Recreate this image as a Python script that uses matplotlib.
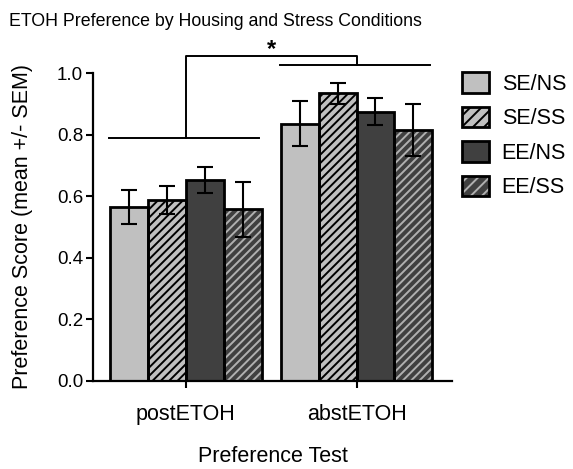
import matplotlib
matplotlib.use("Agg")
import matplotlib.pyplot as plt
import numpy as np
from matplotlib.patches import Patch
from matplotlib.legend_handler import HandlerTuple

plt.rcParams['font.family'] = ['Liberation Sans', 'DejaVu Sans']
plt.rcParams['hatch.linewidth'] = 1.4

groups = ["postETOH", "abstETOH"]
conditions = ["SE/NS", "SE/SS", "EE/NS", "EE/SS"]
means = {
    "SE/NS": [0.565, 0.835],
    "SE/SS": [0.588, 0.935],
    "EE/NS": [0.652, 0.875],
    "EE/SS": [0.557, 0.815],
}
sems = {
    "SE/NS": [0.055, 0.073],
    "SE/SS": [0.045, 0.034],
    "EE/NS": [0.043, 0.045],
    "EE/SS": [0.090, 0.085],
}
face = {"SE/NS": "#c0c0c0", "SE/SS": "#c0c0c0", "EE/NS": "#404040", "EE/SS": "#404040"}
hatchcol = {"SE/NS": None, "SE/SS": "#000000", "EE/NS": None, "EE/SS": "#b0b0b0"}
hatches = {"SE/NS": None, "SE/SS": "////", "EE/NS": None, "EE/SS": "////"}

fig = plt.figure(figsize=(5.73, 4.69), dpi=100)
ax = fig.add_axes([0.162, 0.188, 0.627, 0.656])

x = np.arange(len(groups))
w = 0.222
for i, c in enumerate(conditions):
    pos = x + (i - 1.5) * w
    if hatches[c]:
        ax.bar(pos, means[c], w, color=face[c], edgecolor=hatchcol[c],
               hatch=hatches[c], linewidth=0, zorder=2)
    else:
        ax.bar(pos, means[c], w, color=face[c], linewidth=0, zorder=2)
    ax.bar(pos, means[c], w, facecolor='none', edgecolor='black', linewidth=2.0, zorder=3)
    ax.errorbar(pos, means[c], yerr=sems[c], fmt='none', ecolor='black',
                elinewidth=1.5, capsize=6, capthick=1.5, zorder=4)

ax.set_xlim(-0.545, 1.56)
ax.set_ylim(0, 1.0)
ax.set_yticks([0, 0.2, 0.4, 0.6, 0.8, 1.0])
ax.set_yticklabels(["0.0", "0.2", "0.4", "0.6", "0.8", "1.0"])
ax.set_xticks(x)
ax.set_xticklabels(groups)
ax.tick_params(axis='both', width=1.5, length=5, direction='out')
ax.tick_params(axis='y', labelsize=13.5, pad=2)
ax.tick_params(axis='x', labelsize=15.5, pad=12)
for s in ['top', 'right']:
    ax.spines[s].set_visible(False)
for s in ['left', 'bottom']:
    ax.spines[s].set_linewidth(1.6)

ax.set_xlabel("Preference Test", fontsize=15.5, labelpad=15)
ax.set_ylabel("Preference Score (mean +/- SEM)", fontsize=15.5, labelpad=17)
fig.text(0.015, 0.955, "ETOH Preference by Housing and Stress Conditions",
         fontsize=12.8, ha='left', va='center')

# significance brackets
lk = dict(color='black', linewidth=1.4, clip_on=False, zorder=5)
ax.plot([-0.45, 0.43], [0.79, 0.79], **lk)
ax.plot([0.55, 1.43], [1.028, 1.028], **lk)
ax.plot([0.0, 0.0, 1.0, 1.0], [0.79, 1.057, 1.057, 1.028], **lk)
ax.text(0.5, 1.04, "*", fontsize=17, ha='center', va='bottom', fontweight='bold')

handles = []
for c in conditions:
    if hatches[c]:
        h = (Patch(facecolor=face[c], edgecolor=hatchcol[c], hatch='///', linewidth=0),
             Patch(facecolor='none', edgecolor='black', linewidth=2))
    else:
        h = (Patch(facecolor=face[c], linewidth=0),
             Patch(facecolor='none', edgecolor='black', linewidth=2))
    handles.append(h)
leg = fig.legend(handles, conditions, loc='upper left', bbox_to_anchor=(0.806, 0.846),
                 frameon=False, fontsize=15.5, handlelength=1.25, handleheight=1.1,
                 labelspacing=0.55, handletextpad=0.6, borderpad=0, borderaxespad=0,
                 handler_map={tuple: HandlerTuple(ndivide=1, pad=0)})

fig.savefig("out.png", dpi=100)
